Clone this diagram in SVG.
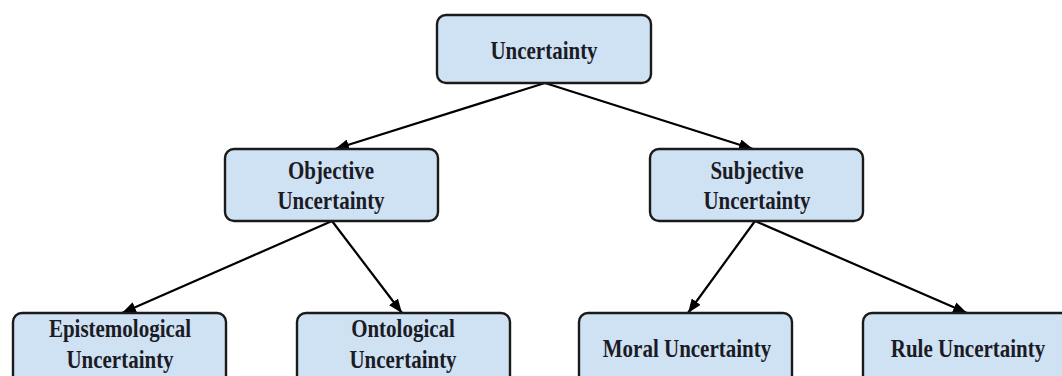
<svg xmlns="http://www.w3.org/2000/svg" width="1062" height="376" viewBox="0 0 1062 376">
<style>
.box{fill:#cfe2f3;stroke:#1a1a1a;stroke-width:2.4}
.lbl{font-family:"Liberation Serif","Times New Roman",serif;font-weight:bold;font-size:21px;fill:#1b1b25;text-anchor:middle}
.edge{stroke:#000;stroke-width:2.2;fill:none;marker-end:url(#arr)}
</style>
<defs>
<marker id="arr" viewBox="0 0 14 11" refX="14" refY="5.5" markerWidth="14" markerHeight="11" markerUnits="userSpaceOnUse" orient="auto">
<path d="M0,0 L14,5.5 L0,11 z" fill="#000"/>
</marker>
</defs>
<rect width="1062" height="376" fill="#fff"/>
<g id="connectors">
<line class="edge" x1="545" y1="83" x2="335" y2="149"/>
<line class="edge" x1="545" y1="83" x2="753" y2="149"/>
<line class="edge" x1="332" y1="221" x2="122" y2="313"/>
<line class="edge" x1="332" y1="221" x2="402" y2="313"/>
<line class="edge" x1="755" y1="221" x2="688" y2="313"/>
<line class="edge" x1="755" y1="221" x2="967" y2="313"/>
</g>
<g id="uncertainty">
<rect class="box" x="437" y="15" width="214" height="68" rx="9"/>
<text class="lbl" transform="translate(544,59) scale(1,1.15)">Uncertainty</text>
</g>
<g id="objective">
<rect class="box" x="225" y="149" width="213" height="72" rx="9"/>
<text class="lbl" transform="translate(331,179) scale(1,1.15)">Objective</text>
<text class="lbl" transform="translate(331,209) scale(1,1.15)">Uncertainty</text>
</g>
<g id="subjective">
<rect class="box" x="650" y="149" width="213" height="72" rx="9"/>
<text class="lbl" transform="translate(757,179) scale(1,1.15)">Subjective</text>
<text class="lbl" transform="translate(757,209) scale(1,1.15)">Uncertainty</text>
</g>
<g id="epistemological">
<rect class="box" x="13" y="313" width="213" height="74" rx="9"/>
<text class="lbl" transform="translate(120,337) scale(1,1.15)">Epistemological</text>
<text class="lbl" transform="translate(120,368) scale(1,1.15)">Uncertainty</text>
</g>
<g id="ontological">
<rect class="box" x="297" y="313" width="213" height="74" rx="9"/>
<text class="lbl" transform="translate(403,337) scale(1,1.15)">Ontological</text>
<text class="lbl" transform="translate(403,368) scale(1,1.15)">Uncertainty</text>
</g>
<g id="moral">
<rect class="box" x="579" y="313" width="213" height="74" rx="9"/>
<text class="lbl" transform="translate(687,357) scale(1,1.15)">Moral Uncertainty</text>
</g>
<g id="rule">
<rect class="box" x="863" y="313" width="213" height="74" rx="9"/>
<text class="lbl" transform="translate(968,357) scale(1,1.15)">Rule Uncertainty</text>
</g>
</svg>
